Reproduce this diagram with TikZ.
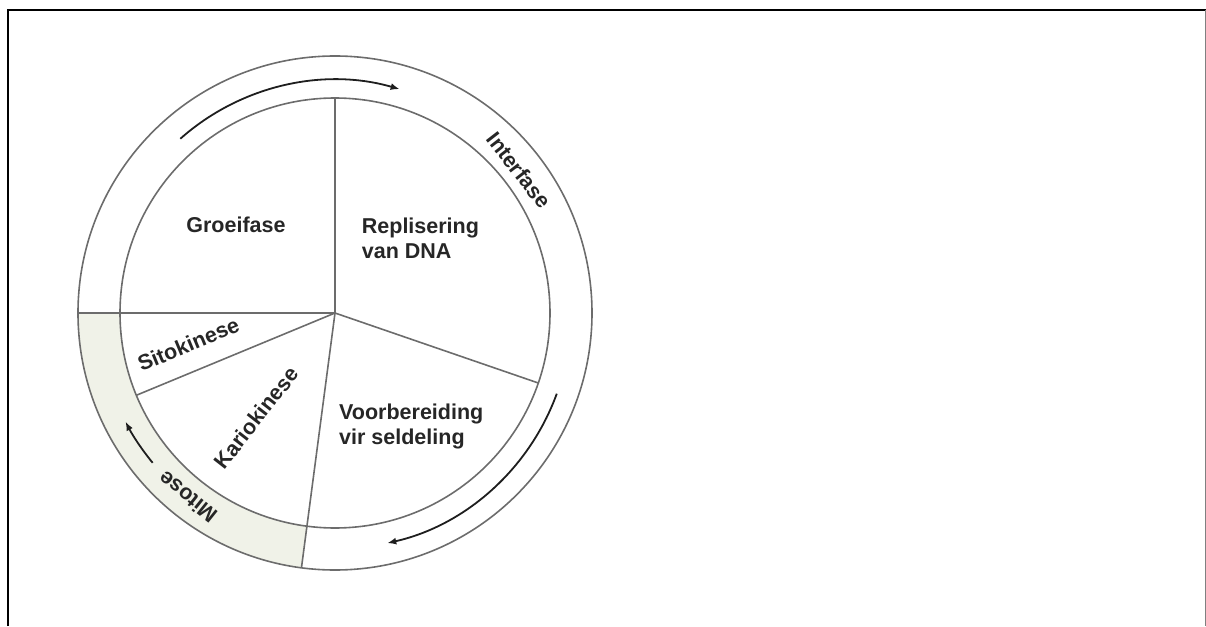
\documentclass[tikz,border=0pt]{standalone}
\usepackage{fontspec}
\setmainfont{Liberation Sans}
\usetikzlibrary{arrows.meta}
\definecolor{ringline}{RGB}{108,108,108}
\definecolor{mitosefill}{RGB}{240,242,232}
\definecolor{arrowink}{RGB}{30,30,30}
\begin{document}
\begin{tikzpicture}[x=1pt,y=1pt,
  ring/.style={draw=ringline, line width=1.6pt},
  cyclearrow/.style={draw=arrowink, line width=1.8pt, -{Latex[length=9pt,width=7pt]}},
  phase/.style={font=\fontsize{21.5}{25.5}\selectfont\bfseries, text=black!85, inner sep=0pt},
]
\useasboundingbox (-335,-313) rectangle (871,313);

% page frame: heavy top and left rules, thin grey right rule
\draw[black, line width=2.2pt] (-327,-313) -- (-327,303) -- (871,303);
\draw[gray, line width=1pt] (870,303) -- (870,-313);

% shaded mitosis band
\fill[mitosefill] (180:257) arc[start angle=180,end angle=262.5,radius=257]
  -- (262.5:215) arc[start angle=262.5,end angle=180,radius=215] -- cycle;

% rings and dividing spokes
\coordinate (c) at (0,0);
\draw[ring] (c) circle[radius=257];
\draw[ring] (c) circle[radius=215];
\draw[ring] (c) -- (90:215);
\draw[ring] (c) -- (-19:215);
\draw[ring] (c) -- (262.5:257);
\draw[ring] (c) -- (202.5:215);
\draw[ring] (c) -- (180:257);

% direction arrows in the outer band
\draw[cyclearrow] (131.6:233) arc[start angle=131.6,end angle=73.9,radius=233];
\draw[cyclearrow] (-20:236) arc[start angle=-20,end angle=-77.2,radius=236];
\draw[cyclearrow] (219.4:236) arc[start angle=219.4,end angle=207.4,radius=236];

% phase labels
\node[phase, anchor=base] (groei) at (-99,80.3) {Groeifase};
\node[phase, anchor=north west, align=left] (repl) at (26.7,95.4) {Replisering\\van DNA};
\node[phase, anchor=north west, align=left] (voor) at (4,-90.6) {Voorbereiding\\vir seldeling};
\node[phase, rotate=22.5] (sito) at (-146.7,-31.2) {Sitokinese};
\node[phase, rotate=52] (kario) at (-78.8,-104.5) {Kariokinese};
\node[phase, rotate=-52.2] (inter) at (37.8:233) {Interfase};
\node[phase, rotate=141.3] (mit) at (231.3:236) {Mitose};
\end{tikzpicture}
\end{document}
